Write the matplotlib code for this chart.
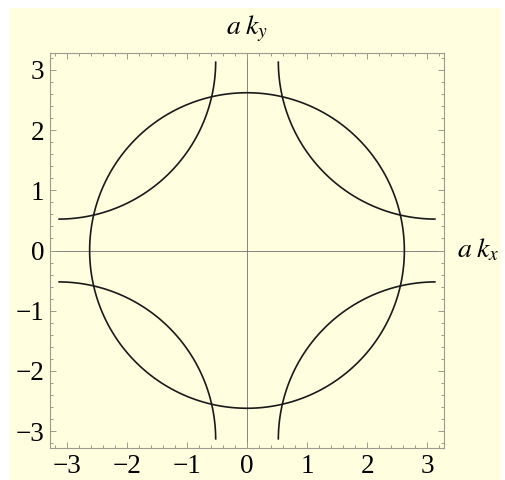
import matplotlib

matplotlib.use("Agg")

import matplotlib.pyplot as plt
import numpy as np
from matplotlib.patches import Rectangle

# contour data
K_MAX = np.pi               # curves drawn over -pi..pi
CIRCLE_RADIUS = 2.62        # a*k radius of every circle
CIRCLE_CENTERS_X = [0.0, -np.pi, np.pi, -np.pi, np.pi]
CIRCLE_CENTERS_Y = [0.0, np.pi, np.pi, -np.pi, -np.pi]
PLOT_RANGE = 3.28
MAJOR_TICKS = [-3, -2, -1, 0, 1, 2, 3]
MINOR_TICKS = np.round(np.arange(-3.2, 3.21, 0.2), 1)
TICK_LABELS = ["\u22123", "\u22122", "\u22121", "0", "1", "2", "3"]

BG = "#FFFFDF"
FRAME = "#9A9A8E"

plt.rcParams["font.family"] = ["Liberation Serif", "DejaVu Serif"]
plt.rcParams["mathtext.fontset"] = "stix"

fig = plt.figure(figsize=(5.05, 4.8), dpi=100)
fig.patch.set_facecolor("white")
fig.patches.append(Rectangle((10 / 505, 0), 491 / 505, 472 / 480,
                             transform=fig.transFigure, facecolor=BG,
                             edgecolor="none", zorder=-10))

ax = fig.add_axes([50 / 505, 1 - 448 / 480, 394 / 505, 395 / 480])
ax.set_facecolor(BG)

# the grid only spans the first zone, so the corner circles get clipped there
k = np.linspace(-K_MAX, K_MAX, 801)
KX, KY = np.meshgrid(k, k)
for cx, cy in zip(CIRCLE_CENTERS_X, CIRCLE_CENTERS_Y):
    ax.contour(KX, KY, (KX - cx) ** 2 + (KY - cy) ** 2,
               levels=[CIRCLE_RADIUS ** 2], colors="#1a1a1a", linewidths=1.2)

ax.axhline(0, color="#707070", lw=0.6, zorder=0)
ax.axvline(0, color="#707070", lw=0.6, zorder=0)

ax.set_xlim(-PLOT_RANGE, PLOT_RANGE)
ax.set_ylim(-PLOT_RANGE, PLOT_RANGE)
ax.set_xticks(MAJOR_TICKS)
ax.set_yticks(MAJOR_TICKS)
ax.set_xticklabels(TICK_LABELS)
ax.set_yticklabels(TICK_LABELS)
ax.set_xticks(MINOR_TICKS, minor=True)
ax.set_yticks(MINOR_TICKS, minor=True)
ax.tick_params(which="both", direction="in", top=True, right=True,
               color=FRAME, width=0.7, labelsize=19.5, pad=4)
ax.tick_params(which="major", length=4)
ax.tick_params(which="minor", length=2)
for spine in ax.spines.values():
    spine.set_color(FRAME)
    spine.set_linewidth(0.8)

fig.text(247 / 505, 1 - 29 / 480, r"$a\;k_y$", ha="center", va="center",
         fontsize=20)
fig.text(457 / 505, 1 - 250 / 480, r"$a\;k_x$", ha="left", va="center",
         fontsize=20)

fig.savefig("out.png", dpi=100, facecolor=fig.get_facecolor())
plt.close(fig)
